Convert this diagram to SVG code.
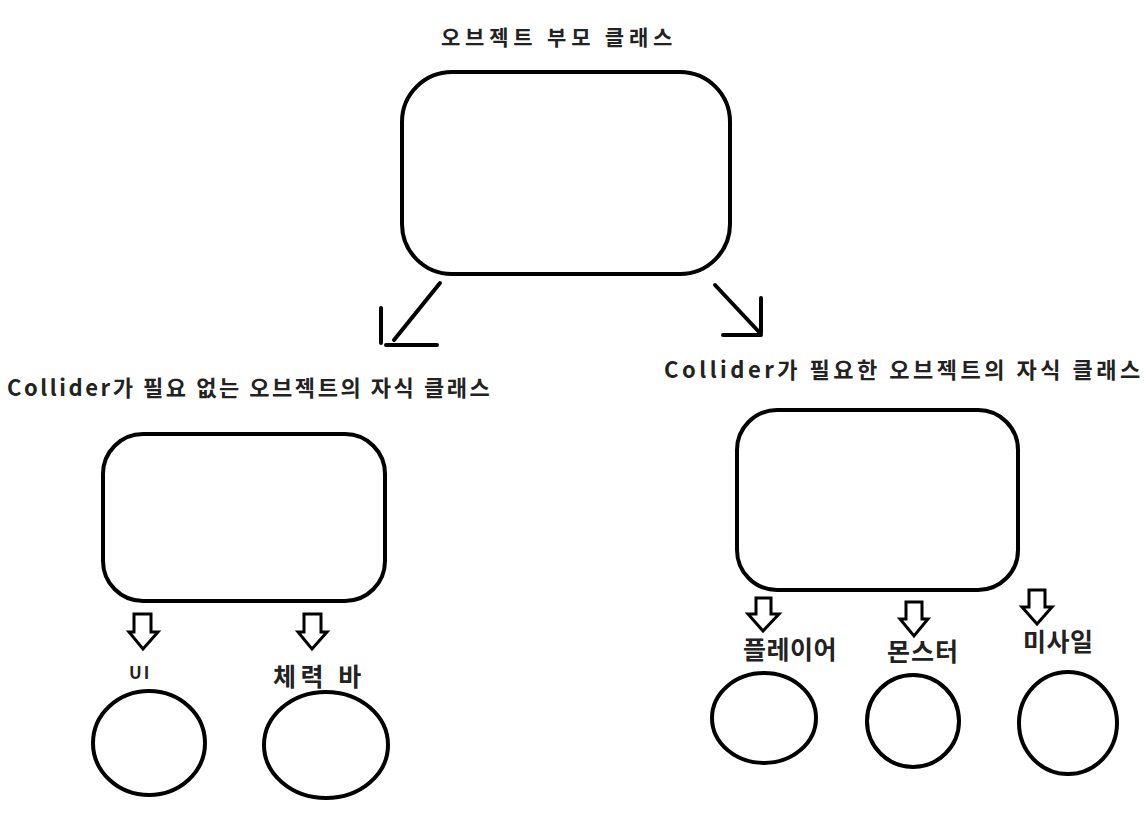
<svg xmlns="http://www.w3.org/2000/svg" width="1144" height="818" viewBox="0 0 1144 818">
<style>
.s{fill:none;stroke:#000;stroke-width:4;stroke-linecap:round;stroke-linejoin:round}
.h{fill:#fff;stroke:#000;stroke-width:3;stroke-linejoin:miter}
.t{font-family:"Noto Sans CJK KR","Noto Sans",sans-serif;font-weight:bold;fill:#222;font-size:22px}
.b{font-size:25px;letter-spacing:0.5px}
</style>
<rect width="1144" height="818" fill="#fff"/>
<g id="parent">
<text class="t" x="441" y="45" style="font-size:21px;letter-spacing:4.8px">오브젝트 부모 클래스</text>
<rect class="s" x="402" y="72" width="328" height="202" rx="50"/>
</g>
<g id="child-no-collider">
<text class="t" x="7" y="396" style="letter-spacing:2.55px">Collider가 필요 없는 오브젝트의 자식 클래스</text>
<rect class="s" x="103" y="434" width="282" height="167" rx="40"/>
</g>
<g id="child-collider">
<text class="t" x="664" y="378" style="letter-spacing:3.5px">Collider가 필요한 오브젝트의 자식 클래스</text>
<rect class="s" x="737" y="410" width="281" height="180" rx="40"/>
</g>
<g id="ui">
<text class="t" x="129" y="679" style="font-size:17px;letter-spacing:2px">UI</text>
<ellipse class="s" cx="149" cy="743" rx="56" ry="52"/>
</g>
<g id="hpbar">
<text class="t b" x="273" y="686" style="letter-spacing:4.5px">체력 바</text>
<ellipse class="s" cx="326" cy="745" rx="62" ry="53"/>
</g>
<g id="player">
<text class="t b" x="743" y="659">플레이어</text>
<ellipse class="s" cx="764" cy="718" rx="52" ry="45"/>
</g>
<g id="monster">
<text class="t b" x="887" y="661" style="letter-spacing:1px">몬스터</text>
<ellipse class="s" cx="913" cy="721" rx="46" ry="46"/>
</g>
<g id="missile">
<text class="t b" x="1023" y="651">미사일</text>
<ellipse class="s" cx="1068" cy="723" rx="49" ry="51"/>
</g>
<g id="connectors">
<path class="s" d="M440 283 L394 340 M381 308 L381 343 M386 345 L437 345"/>
<path class="s" d="M715 285 L760 333 M761 298 L761 333 M723 335 L761 335"/>
<path class="h" d="M134 614 H151 V632 H158 L143 649 L129 632 H134 Z"/>
<path class="h" d="M304 614 H321 V632 H327 L312 649 L298 632 H304 Z"/>
<path class="h" d="M756 598 H771 V614 H779 L763 631 L748 614 H756 Z"/>
<path class="h" d="M906 602 H922 V619 H928 L914 636 L900 619 H906 Z"/>
<path class="h" d="M1029 590 H1045 V607 H1052 L1037 624 L1022 607 H1029 Z"/>
</g>
</svg>
